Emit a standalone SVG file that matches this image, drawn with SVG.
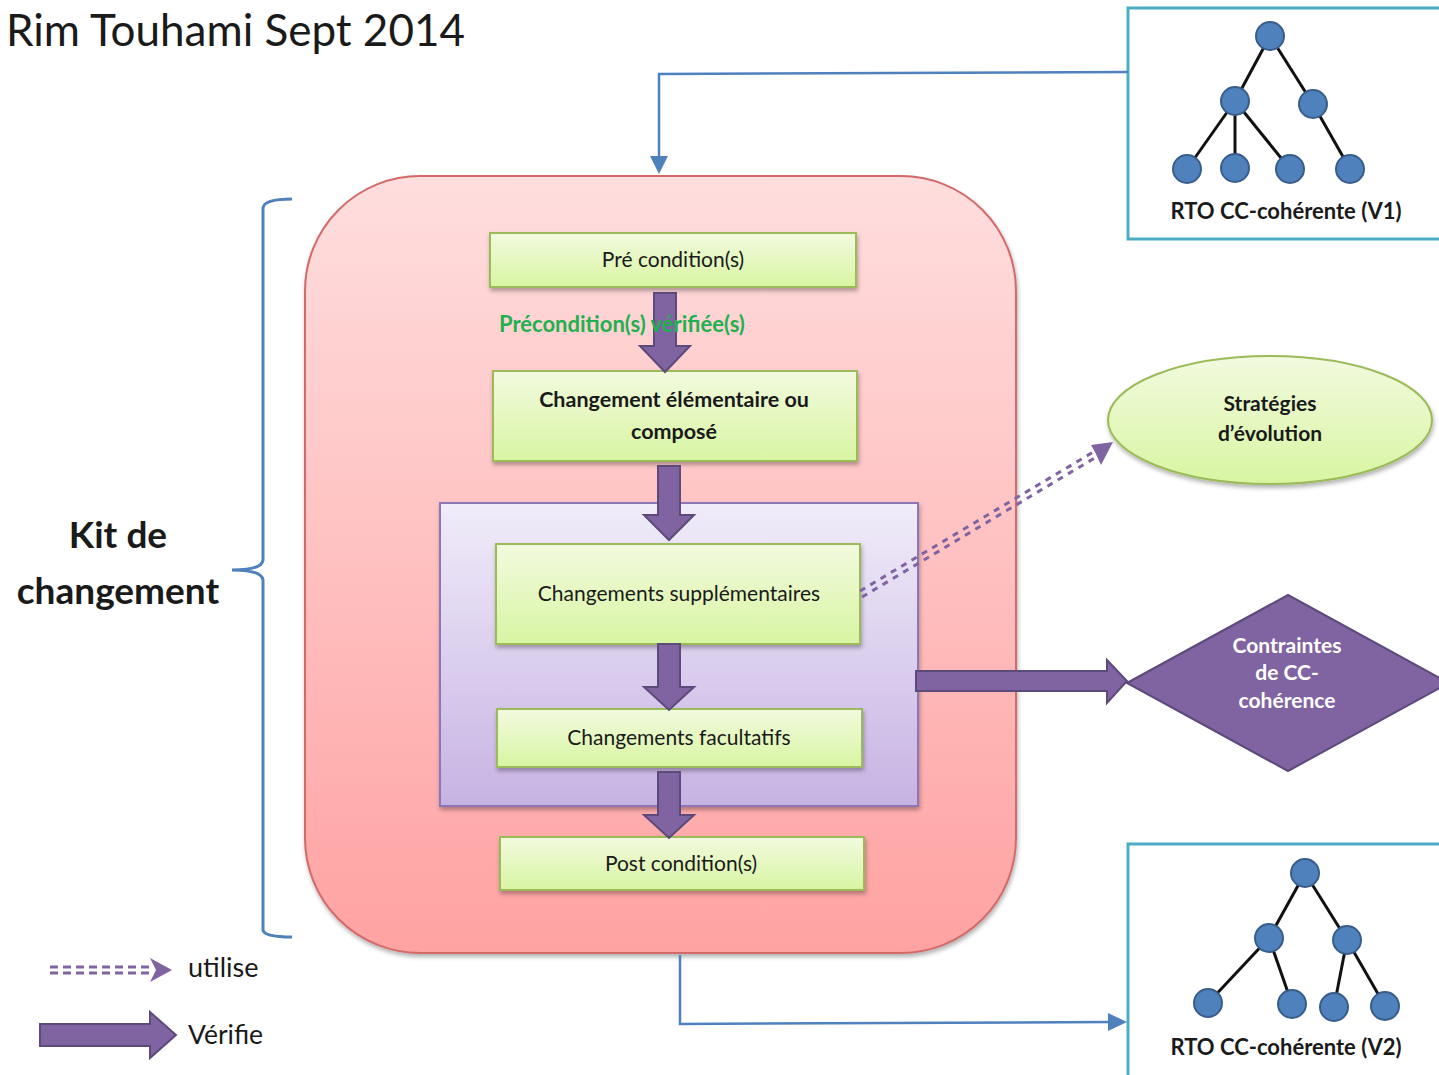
<svg xmlns="http://www.w3.org/2000/svg" width="1439" height="1075" viewBox="0 0 1439 1075">
<defs>
<linearGradient id="gPink" x1="0" y1="0" x2="0" y2="1"><stop offset="0" stop-color="#FFDEDE"/><stop offset="1" stop-color="#FFA2A2"/></linearGradient>
<linearGradient id="gLilac" x1="0" y1="0" x2="0" y2="1"><stop offset="0" stop-color="#F0ECF9"/><stop offset="1" stop-color="#C7B3E3"/></linearGradient>
<linearGradient id="gGreen" x1="0" y1="0" x2="0" y2="1"><stop offset="0" stop-color="#F2FADF"/><stop offset="1" stop-color="#D8F5A2"/></linearGradient>
<filter id="sh" x="-10%" y="-10%" width="130%" height="140%"><feDropShadow dx="1" dy="3" stdDeviation="2" flood-color="#000" flood-opacity="0.3"/></filter>
</defs>
<style>
.t{font-family:Lato,"Open Sans","Liberation Sans",sans-serif;fill:#1a1a1a}
.b{font-weight:bold}
.box{fill:url(#gGreen);stroke:#9BBB59;stroke-width:2}
.barr{fill:#8064A2;stroke:#5C4A7A;stroke-width:2}
.edge{stroke:#111;stroke-width:3}
.nd{fill:#4F81BD;stroke:#385D8A;stroke-width:2}
.tbox{fill:none;stroke:#4BACC6;stroke-width:3}
.conn{fill:none;stroke:#4F81BD;stroke-width:2.5}
</style>

<text class="t" x="6" y="46" font-size="44">Rim Touhami Sept 2014</text>

<g id="kit-label">
<text class="t b" x="118" y="548" font-size="37" text-anchor="middle">Kit de</text>
<text class="t b" x="118" y="604" font-size="37" text-anchor="middle">changement</text>
</g>
<g id="brace">
<path d="M292,199 Q264,199 263,208 L263,560 Q262,570 232,570 Q262,570 263,580 L263,930 Q264,937 292,937" fill="none" stroke="#4F81BD" stroke-width="3"/>
</g>

<g id="kit">
<rect x="305" y="176" width="711" height="777" rx="115" ry="115" fill="url(#gPink)" stroke="#D26A6A" stroke-width="2" filter="url(#sh)"/>
</g>

<g id="optional-group">
<rect x="440" y="503" width="478" height="303" fill="url(#gLilac)" stroke="#8C76B8" stroke-width="2" filter="url(#sh)"/>
</g>

<g id="precond">
<rect class="box" x="490" y="233" width="366" height="54" filter="url(#sh)"/>
<text class="t" x="673" y="267" font-size="21" text-anchor="middle">Pré condition(s)</text>
</g>
<g id="change">
<rect class="box" x="493" y="371" width="364" height="90" filter="url(#sh)"/>
<text class="t b" x="674" y="407" font-size="21.5" text-anchor="middle">Changement élémentaire ou</text>
<text class="t b" x="674" y="439" font-size="21.5" text-anchor="middle">composé</text>
</g>
<g id="supp">
<rect class="box" x="496" y="544" width="364" height="100" filter="url(#sh)"/>
<text class="t" x="679" y="601" font-size="21" text-anchor="middle">Changements supplémentaires</text>
</g>
<g id="facult">
<rect class="box" x="497" y="709" width="365" height="58" filter="url(#sh)"/>
<text class="t" x="679" y="745" font-size="21" text-anchor="middle">Changements facultatifs</text>
</g>
<g id="postcond">
<rect class="box" x="500" y="837" width="364" height="53" filter="url(#sh)"/>
<text class="t" x="681" y="871" font-size="21" text-anchor="middle">Post condition(s)</text>
</g>

<g id="strategies">
<ellipse cx="1270" cy="420" rx="162" ry="64" fill="url(#gGreen)" stroke="#9BBB59" stroke-width="2" filter="url(#sh)"/>
<text class="t b" x="1270" y="411" font-size="21" text-anchor="middle">Stratégies</text>
<text class="t b" x="1270" y="441" font-size="21" text-anchor="middle">d’évolution</text>
</g>

<g id="contraintes">
<polygon points="1127,683 1288,595 1449,683 1288,771" fill="#8064A2" stroke="#5C4A7A" stroke-width="2"/>
<text class="t b" x="1287" y="653" font-size="21" text-anchor="middle" style="fill:#fff">Contraintes</text>
<text class="t b" x="1287" y="680" font-size="21" text-anchor="middle" style="fill:#fff">de CC-</text>
<text class="t b" x="1287" y="708" font-size="21" text-anchor="middle" style="fill:#fff">cohérence</text>
</g>

<g id="rto-v1">
<rect class="tbox" x="1128" y="8" width="320" height="231"/>
<g>
<line class="edge" x1="1270" y1="36" x2="1235" y2="101"/>
<line class="edge" x1="1270" y1="36" x2="1313" y2="104"/>
<line class="edge" x1="1235" y1="101" x2="1187" y2="169"/>
<line class="edge" x1="1235" y1="101" x2="1235" y2="168"/>
<line class="edge" x1="1235" y1="101" x2="1290" y2="169"/>
<line class="edge" x1="1313" y1="104" x2="1350" y2="169"/>
</g>
<circle class="nd" cx="1270" cy="36" r="14"/>
<circle class="nd" cx="1235" cy="101" r="14"/>
<circle class="nd" cx="1313" cy="104" r="14"/>
<circle class="nd" cx="1187" cy="169" r="14"/>
<circle class="nd" cx="1235" cy="168" r="14"/>
<circle class="nd" cx="1290" cy="169" r="14"/>
<circle class="nd" cx="1350" cy="169" r="14"/>
<text class="t b" x="1286" y="219" font-size="22" text-anchor="middle">RTO CC-cohérente (V1)</text>
</g>

<g id="rto-v2">
<rect class="tbox" x="1128" y="844" width="320" height="240"/>
<g>
<line class="edge" x1="1305" y1="873" x2="1269" y2="938"/>
<line class="edge" x1="1305" y1="873" x2="1347" y2="940"/>
<line class="edge" x1="1269" y1="938" x2="1208" y2="1003"/>
<line class="edge" x1="1269" y1="938" x2="1292" y2="1004"/>
<line class="edge" x1="1347" y1="940" x2="1334" y2="1007"/>
<line class="edge" x1="1347" y1="940" x2="1385" y2="1006"/>
</g>
<circle class="nd" cx="1305" cy="873" r="14"/>
<circle class="nd" cx="1269" cy="938" r="14"/>
<circle class="nd" cx="1347" cy="940" r="14"/>
<circle class="nd" cx="1208" cy="1003" r="14"/>
<circle class="nd" cx="1292" cy="1004" r="14"/>
<circle class="nd" cx="1334" cy="1007" r="14"/>
<circle class="nd" cx="1385" cy="1006" r="14"/>
<text class="t b" x="1286" y="1055" font-size="22" text-anchor="middle">RTO CC-cohérente (V2)</text>
</g>

<g id="connectors">
<polyline class="conn" points="1128,72 659,74 659,158"/>
<polygon points="650,156 668,156 659,174" fill="#4F81BD"/>
<polyline class="conn" points="680,955 680,1024 1112,1022"/>
<polygon points="1108,1013 1127,1022 1108,1031" fill="#4F81BD"/>

<path class="barr" d="M654,293 L676,293 L676,346 L690,346 L665,372 L640,346 L654,346 z"/>
<path class="barr" d="M658,466 L680,466 L680,515 L694,515 L669,540 L644,515 L658,515 z"/>
<path class="barr" d="M658,644 L680,644 L680,687 L694,687 L669,710 L644,687 L658,687 z"/>
<path class="barr" d="M658,772 L680,772 L680,815 L694,815 L669,838 L644,815 L658,815 z"/>
<path class="barr" d="M916,671 L1107,671 L1107,660 L1127,681 L1107,703 L1107,691 L916,691 z"/>

<g stroke="#8064A2" stroke-width="3" stroke-dasharray="6 6" fill="none">
<line x1="860" y1="591" x2="1095" y2="451"/>
<line x1="862" y1="597" x2="1098" y2="456"/>
</g>
<polygon points="1113,442 1091,445 1095,452 1101,465" fill="#8064A2"/>

<text class="t b" x="499" y="332" font-size="22" style="fill:#1FB050">Précondition(s) vérifiée(s)</text>
</g>

<g id="legend">
<g stroke="#8064A2" stroke-width="3" stroke-dasharray="8 5" fill="none">
<line x1="50" y1="967" x2="152" y2="967"/>
<line x1="50" y1="973" x2="152" y2="973"/>
</g>
<polygon points="150,958 172,970 150,982 156,970" fill="#8064A2"/>
<text class="t" x="188" y="977" font-size="27">utilise</text>
<path class="barr" d="M40,1024 L150,1024 L150,1012 L176,1035 L150,1058 L150,1046 L40,1046 z"/>
<text class="t" x="188" y="1044" font-size="26.5">Vérifie</text>
</g>
</svg>
